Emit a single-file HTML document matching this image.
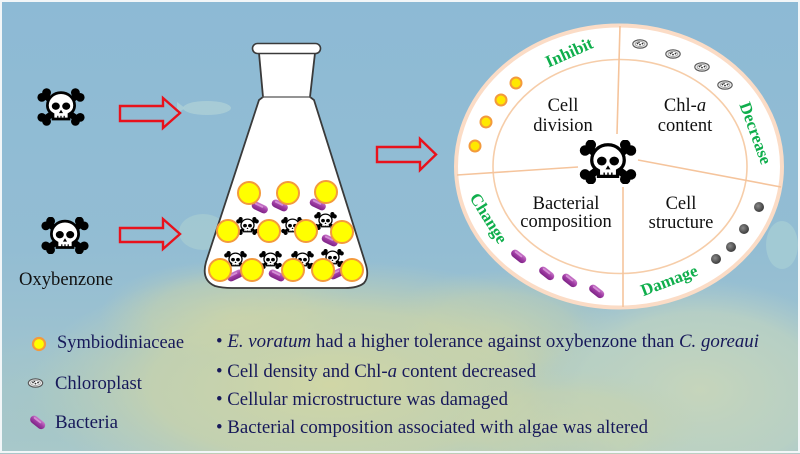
<!DOCTYPE html>
<html><head><meta charset="utf-8"><style>
html,body{margin:0;padding:0;width:800px;height:454px;overflow:hidden;background:#fff}
svg{display:block;position:absolute;left:0;top:0;overflow:hidden}
.serif{font-family:"Liberation Serif","DejaVu Serif",serif}
</style></head><body>
<svg width="800" height="454" viewBox="0 0 800 454" xmlns="http://www.w3.org/2000/svg" class="serif">
<defs>
<linearGradient id="bg" x1="0" y1="0" x2="0" y2="1">
<stop offset="0" stop-color="#8dbad5"/>
<stop offset="0.55" stop-color="#93bdd3"/>
<stop offset="1" stop-color="#a9c8cc"/>
</linearGradient>
<radialGradient id="gL" gradientUnits="userSpaceOnUse" cx="0" cy="0" r="1" gradientTransform="translate(50 410) scale(110 80)">
<stop offset="0" stop-color="#a6c7c6" stop-opacity="0.9"/>
<stop offset="1" stop-color="#a6c7c6" stop-opacity="0"/>
</radialGradient>
<radialGradient id="gY1" gradientUnits="userSpaceOnUse" cx="0" cy="0" r="1" gradientTransform="translate(330 385) scale(300 125)">
<stop offset="0" stop-color="#d0d6a6" stop-opacity="1"/>
<stop offset="0.6" stop-color="#c9d3aa" stop-opacity="0.8"/>
<stop offset="1" stop-color="#c0d0b2" stop-opacity="0"/>
</radialGradient>
<radialGradient id="gY2" gradientUnits="userSpaceOnUse" cx="0" cy="0" r="1" gradientTransform="translate(230 315) scale(130 55)">
<stop offset="0" stop-color="#d0d6a6" stop-opacity="0.6"/>
<stop offset="0.6" stop-color="#c9d3aa" stop-opacity="0.45"/>
<stop offset="1" stop-color="#c0d0b2" stop-opacity="0"/>
</radialGradient>
<radialGradient id="gY3" gradientUnits="userSpaceOnUse" cx="0" cy="0" r="1" gradientTransform="translate(500 330) scale(120 60)">
<stop offset="0" stop-color="#d0d6a6" stop-opacity="0.5"/>
<stop offset="0.6" stop-color="#c9d3aa" stop-opacity="0.4"/>
<stop offset="1" stop-color="#c0d0b2" stop-opacity="0"/>
</radialGradient>
<radialGradient id="gR" gradientUnits="userSpaceOnUse" cx="0" cy="0" r="1" gradientTransform="translate(700 390) scale(170 110)">
<stop offset="0" stop-color="#c6d5bb" stop-opacity="1"/>
<stop offset="0.7" stop-color="#bcd2c2" stop-opacity="0.8"/>
<stop offset="1" stop-color="#b5cec8" stop-opacity="0"/>
</radialGradient>
<radialGradient id="gY4" gradientUnits="userSpaceOnUse" cx="0" cy="0" r="1" gradientTransform="translate(560 425) scale(140 55)">
<stop offset="0" stop-color="#d0d6a6" stop-opacity="0.6"/>
<stop offset="0.6" stop-color="#c9d3aa" stop-opacity="0.48"/>
<stop offset="1" stop-color="#c0d0b2" stop-opacity="0"/>
</radialGradient>
<linearGradient id="bact" x1="0" y1="0" x2="0" y2="1">
<stop offset="0" stop-color="#c978c9"/>
<stop offset="0.5" stop-color="#a03ca4"/>
<stop offset="1" stop-color="#7d2486"/>
</linearGradient>
<radialGradient id="dark" cx="0.4" cy="0.4" r="0.6">
<stop offset="0" stop-color="#8a8a8a"/>
<stop offset="1" stop-color="#3c3c3c"/>
</radialGradient>
<symbol id="skull" viewBox="0 0 60 46">
<g stroke="#000" stroke-width="8" stroke-linecap="round">
<line x1="10" y1="9" x2="50" y2="38"/>
<line x1="50" y1="9" x2="10" y2="38"/>
</g>
<g fill="#000">
<circle cx="6" cy="11" r="5.5"/><circle cx="12" cy="5" r="5.5"/>
<circle cx="54" cy="11" r="5.5"/><circle cx="48" cy="5" r="5.5"/>
<circle cx="6" cy="36" r="5.5"/><circle cx="12" cy="41" r="5.5"/>
<circle cx="54" cy="36" r="5.5"/><circle cx="48" cy="41" r="5.5"/>
</g>
<path d="M13,21 a17,16 0 1,1 34,0 c0,6 -3,9 -7,11 v6 h-20 v-6 c-4,-2 -7,-5 -7,-11z" fill="#fff" stroke="#000" stroke-width="3.4"/>
<ellipse cx="23.5" cy="22" rx="5" ry="4.6" fill="#000"/>
<ellipse cx="36.5" cy="22" rx="5" ry="4.6" fill="#000"/>
<path d="M30,26.5 l-2.6,4.2 h5.2z" fill="#000"/>
<g stroke="#000" stroke-width="1.5"><line x1="26" y1="34" x2="26" y2="38"/><line x1="30" y1="34" x2="30" y2="38"/><line x1="34" y1="34" x2="34" y2="38"/></g>
</symbol>
<symbol id="chl" viewBox="0 0 16 10">
<ellipse cx="8" cy="5" rx="7.2" ry="4.2" fill="#e6e6e6" stroke="#555" stroke-width="1.1"/>
<ellipse cx="8" cy="5" rx="4.8" ry="2.4" fill="#fff" stroke="#888" stroke-width="0.6"/>
<g fill="#333"><circle cx="5.5" cy="4.5" r="0.9"/><circle cx="8" cy="5.6" r="0.9"/><circle cx="10.5" cy="4.6" r="0.9"/><circle cx="7" cy="3.6" r="0.7"/></g>
</symbol>
<symbol id="bac" viewBox="0 0 18 9">
<rect x="0.5" y="0.5" width="17" height="8" rx="4" fill="url(#bact)"/>
<rect x="3" y="2" width="9" height="1.8" rx="0.9" fill="#e2a6e2" opacity="0.7"/>
</symbol>
</defs>

<!-- background -->
<rect x="0" y="0" width="800" height="454" fill="url(#bg)"/>
<rect x="0" y="0" width="800" height="454" fill="url(#gL)"/>
<rect x="0" y="0" width="800" height="454" fill="url(#gY1)"/>
<rect x="0" y="0" width="800" height="454" fill="url(#gY2)"/>
<rect x="0" y="0" width="800" height="454" fill="url(#gY3)"/>
<rect x="0" y="0" width="800" height="454" fill="url(#gR)"/>
<rect x="0" y="0" width="800" height="454" fill="url(#gY4)"/>
<!-- fish (faint) -->
<ellipse cx="207" cy="108" rx="24" ry="7" fill="#acd0d6" opacity="0.8"/>
<path d="M185,108 l-8,-6 v12z" fill="#acd0d6" opacity="0.8"/>
<ellipse cx="203" cy="232" rx="24" ry="18" fill="#abcfd2" opacity="0.6"/>
<ellipse cx="782" cy="245" rx="16" ry="24" fill="#abd2d6" opacity="0.6"/>
<!-- frame -->
<rect x="1" y="1" width="798" height="451" fill="none" stroke="#f2f6f8" stroke-width="2"/>

<!-- left skulls -->
<use href="#skull" x="37" y="88" width="48" height="38"/>
<use href="#skull" x="41" y="217" width="48" height="37"/>
<text x="19" y="285" font-size="18.5" fill="#111" textLength="94" lengthAdjust="spacingAndGlyphs">Oxybenzone</text>

<!-- arrows -->
<g fill="none" stroke="#e8121c" stroke-width="2.4" stroke-linejoin="miter">
<polygon points="120,106 163,106 163,98 180,113 163,128 163,121 120,121"/>
<polygon points="120,228 163,228 163,219 180,234 163,249 163,242 120,242"/>
<polygon points="377,147 420,147 420,139 436,154.5 420,170 420,162 377,162"/>
</g>

<!-- flask -->
<path d="M259,53 L263,97 L259,100 L206,262 Q201,280 215,286 Q222,288 232,288 L345,288 Q358,288 364,283 Q370,276 365,262 L314,100 L310,97 L315,53 Z" fill="#fff" stroke="#3a3a3a" stroke-width="1.8"/>
<line x1="262" y1="97" x2="311" y2="97" stroke="#555" stroke-width="1.2"/>
<rect x="252.5" y="43.5" width="68" height="10" rx="5" fill="#fff" stroke="#3a3a3a" stroke-width="1.6"/>

<!-- flask contents -->
<g>
<use href="#bac" x="251" y="203" width="18" height="9" transform="rotate(25 260 207)"/>
<use href="#bac" x="271" y="201" width="18" height="9" transform="rotate(25 280 205)"/>
<use href="#bac" x="309" y="200" width="18" height="9" transform="rotate(25 318 204)"/>
<use href="#bac" x="321" y="236" width="18" height="9" transform="rotate(25 330 240)"/>
<use href="#bac" x="226" y="271" width="18" height="9" transform="rotate(-25 235 275)"/>
<use href="#bac" x="268" y="271" width="18" height="9" transform="rotate(25 277 275)"/>
<use href="#bac" x="328" y="269" width="18" height="9" transform="rotate(-25 337 273)"/>
<use href="#skull" x="236" y="217" width="23" height="18"/>
<use href="#skull" x="281" y="217" width="23" height="18"/>
<use href="#skull" x="314" y="212" width="23" height="18"/>
<use href="#skull" x="224" y="251" width="23" height="18"/>
<use href="#skull" x="259" y="251" width="23" height="18"/>
<use href="#skull" x="291" y="251" width="23" height="18"/>
<use href="#skull" x="321" y="249" width="23" height="18"/>
</g>
<g fill="#ffff00" stroke="#f39a3c" stroke-width="2">
<circle cx="249" cy="193" r="11"/><circle cx="288" cy="193" r="11"/><circle cx="326" cy="192" r="11"/>
<circle cx="228" cy="231" r="11"/><circle cx="269" cy="231" r="11"/><circle cx="306" cy="231" r="11"/><circle cx="342" cy="232" r="11"/>
<circle cx="220" cy="270" r="11"/><circle cx="252" cy="270" r="11"/><circle cx="293" cy="270" r="11"/><circle cx="323" cy="270" r="11"/><circle cx="352" cy="270" r="11"/>
</g>

<!-- circle diagram -->
<ellipse cx="619" cy="166.5" rx="163" ry="141" fill="#fff" stroke="#fbdcc6" stroke-width="4"/>
<ellipse cx="620" cy="166.5" rx="127" ry="107" fill="none" stroke="#f6cda9" stroke-width="1.6"/>
<g stroke="#f5c49c" stroke-width="1.6">
<line x1="620" y1="26" x2="617" y2="134"/>
<line x1="623" y1="187" x2="623" y2="307"/>
<line x1="457" y1="175" x2="578" y2="167"/>
<line x1="638" y1="160" x2="781" y2="187"/>
</g>
<use href="#skull" x="579" y="140" width="58" height="44"/>

<g font-size="18.5" fill="#111" text-anchor="middle">
<text x="563" y="111">Cell</text>
<text x="563" y="131">division</text>
<text x="685" y="111">Chl-<tspan font-style="italic">a</tspan></text>
<text x="685" y="131">content</text>
<text x="566" y="209">Bacterial</text>
<text x="566" y="227">composition</text>
<text x="681" y="209">Cell</text>
<text x="681" y="228">structure</text>
</g>

<g font-size="17" font-weight="bold" fill="#0fae4c" text-anchor="middle">
<text x="569" y="58" transform="rotate(-24 569 52)">Inhibit</text>
<text x="756" y="139" transform="rotate(70 756 133)">Decrease</text>
<text x="489" y="224" transform="rotate(58 489 218)">Change</text>
<text x="669" y="286" transform="rotate(-21 669 280)">Damage</text>
</g>

<!-- ring icons -->
<g fill="#ffe800" stroke="#f39a3c" stroke-width="2">
<circle cx="516" cy="83" r="5.5"/><circle cx="501" cy="100" r="5.5"/><circle cx="486" cy="122" r="5.5"/><circle cx="475" cy="146" r="5.5"/>
</g>
<use href="#chl" x="632" y="39" width="16" height="10"/>
<use href="#chl" x="665" y="49" width="16" height="10"/>
<use href="#chl" x="694" y="62" width="16" height="10"/>
<use href="#chl" x="717" y="80" width="16" height="10"/>
<g fill="url(#dark)">
<circle cx="759" cy="207" r="5"/><circle cx="744" cy="229" r="5"/><circle cx="731" cy="247" r="5"/><circle cx="716" cy="259" r="5"/>
</g>
<use href="#bac" x="510" y="252" width="18" height="9" transform="rotate(38 519 256)"/>
<use href="#bac" x="538" y="269" width="18" height="9" transform="rotate(38 547 273)"/>
<use href="#bac" x="561" y="276" width="18" height="9" transform="rotate(38 570 280)"/>
<use href="#bac" x="588" y="287" width="18" height="9" transform="rotate(38 597 291)"/>

<!-- legend -->
<circle cx="39" cy="344" r="6" fill="#ffff00" stroke="#f39a3c" stroke-width="2.2"/>
<use href="#chl" x="27" y="378" width="17" height="10"/>
<use href="#bac" x="29" y="418" width="18" height="9" transform="rotate(38 38 422)"/>
<g font-size="18.5" fill="#17195a">
<text x="57" y="348" textLength="127" lengthAdjust="spacingAndGlyphs">Symbiodiniaceae</text>
<text x="55" y="389" textLength="87" lengthAdjust="spacingAndGlyphs">Chloroplast</text>
<text x="55" y="428" textLength="63" lengthAdjust="spacingAndGlyphs">Bacteria</text>
<text x="216" y="347" textLength="543" lengthAdjust="spacingAndGlyphs">• <tspan font-style="italic">E. voratum</tspan> had a higher tolerance against oxybenzone than <tspan font-style="italic">C. goreaui</tspan></text>
<text x="216" y="377" textLength="320" lengthAdjust="spacingAndGlyphs">• Cell density and Chl-<tspan font-style="italic">a</tspan> content decreased</text>
<text x="216" y="405" textLength="292" lengthAdjust="spacingAndGlyphs">• Cellular microstructure was damaged</text>
<text x="216" y="433" textLength="432" lengthAdjust="spacingAndGlyphs">• Bacterial composition associated with algae was altered</text>
</g>
</svg>
</body></html>
